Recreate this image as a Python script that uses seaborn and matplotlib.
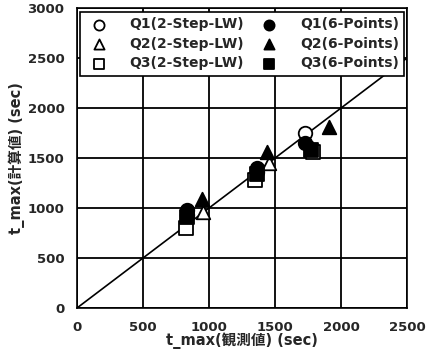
import matplotlib
matplotlib.use('Agg')
import matplotlib.pyplot as plt
import seaborn as sns
import pandas as pd

# ===============================
# DADOS
# ===============================
series = ['Q1(2-Step-LW)', 'Q1(6-Points)', 'Q2(2-Step-LW)',
          'Q2(6-Points)', 'Q3(2-Step-LW)', 'Q3(6-Points)']

q1_lw_obs = [830, 1360, 1725]
q1_lw_calc = [930, 1360, 1750]
q1_6p_obs = [830, 1360, 1725]
q1_6p_calc = [980, 1395, 1645]
q2_lw_obs = [955, 1450, 1780]
q2_lw_calc = [955, 1445, 1600]
q2_6p_obs = [950, 1435, 1905]
q2_6p_calc = [1090, 1560, 1805]
q3_lw_obs = [825, 1350, 1790]
q3_lw_calc = [800, 1280, 1560]
q3_6p_obs = [830, 1360, 1770]
q3_6p_calc = [910, 1340, 1575]

diag = [0, 3000]

obs = [q1_lw_obs, q1_6p_obs, q2_lw_obs, q2_6p_obs, q3_lw_obs, q3_6p_obs]
calc = [q1_lw_calc, q1_6p_calc, q2_lw_calc, q2_6p_calc, q3_lw_calc, q3_6p_calc]

rows = []
for name, xs, ys in zip(series, obs, calc):
    for x, y in zip(xs, ys):
        rows.append({'obs': x, 'calc': y, 'serie': name})
df = pd.DataFrame(rows)

# ===============================
# ESTILO
# ===============================
sns.set_style('white')
plt.rcParams['font.family'] = ['DejaVu Sans', 'Noto Sans CJK JP']
plt.rcParams['font.weight'] = 'bold'

fig = plt.figure(figsize=(4.30, 3.59), dpi=100)
ax = fig.add_axes([0.179, 0.142, 0.768, 0.836])

estilos = {
    'Q1(2-Step-LW)': ('o', 'white'),
    'Q1(6-Points)': ('o', 'black'),
    'Q2(2-Step-LW)': ('^', 'white'),
    'Q2(6-Points)': ('^', 'black'),
    'Q3(2-Step-LW)': ('s', 'white'),
    'Q3(6-Points)': ('s', 'black'),
}

# linha y = x
sns.lineplot(x=diag, y=diag, color='black', lw=1.2, ax=ax, zorder=2)

for name in series:
    m, fc = estilos[name]
    sns.scatterplot(data=df[df['serie'] == name], x='obs', y='calc',
                    marker=m, color=fc, edgecolor='black', linewidth=1.3,
                    s=95, ax=ax, label=name, zorder=3)

ax.set_xlim(0, 2500)
ax.set_ylim(0, 3000)
ax.set_xticks(range(0, 2501, 500))
ax.set_yticks(range(0, 3001, 500))
ax.grid(True, color='black', lw=1.3)
for s in ax.spines.values():
    s.set_color('black')
    s.set_linewidth(1.2)
ax.tick_params(labelsize=9.5, length=0, pad=9)
for lab in ax.get_xticklabels() + ax.get_yticklabels():
    lab.set_fontweight('bold')

ax.set_xlabel('t_max(観測値) (sec)', fontsize=10.5, fontweight='bold', labelpad=-1)
ax.set_ylabel('t_max(計算値) (sec)', fontsize=10.5, fontweight='bold', labelpad=2)

# ordem da legenda por linha (matplotlib preenche por coluna)
handles, labels = ax.get_legend_handles_labels()
ordem = [0, 2, 4, 1, 3, 5]
leg = ax.legend([handles[i] for i in ordem], [labels[i] for i in ordem],
                ncol=2, loc='upper center', bbox_to_anchor=(0.5, 0.987),
                frameon=True, fancybox=False, edgecolor='black', framealpha=1,
                prop={'weight': 'bold', 'size': 10},
                handlelength=2.0, handletextpad=1.2, columnspacing=0.8,
                labelspacing=0.4, borderpad=0.4, borderaxespad=0,
                markerscale=0.75)
leg.get_frame().set_linewidth(1.2)

fig.savefig('out.png', dpi=100)
